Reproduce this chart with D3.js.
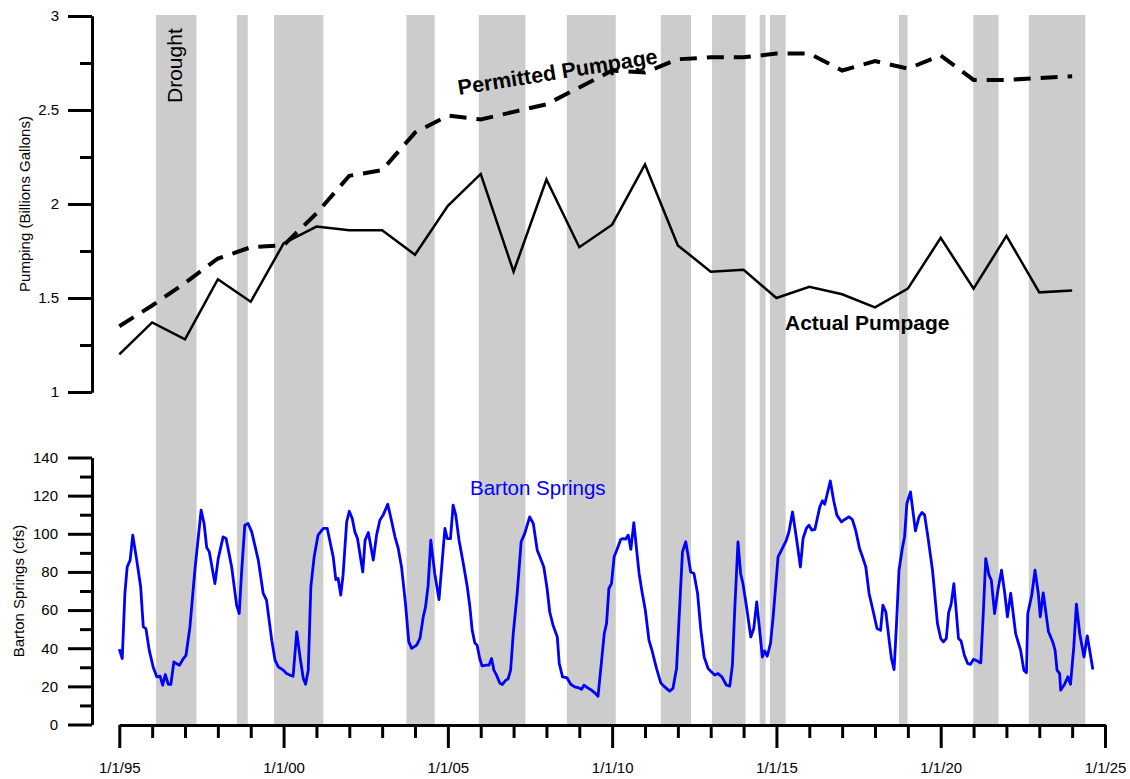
<!DOCTYPE html>
<html>
<head>
<meta charset="utf-8">
<script src="https://cdn.jsdelivr.net/npm/d3@7"></script>
<style>
  html, body { margin: 0; padding: 0; background: #fff; }
  svg { display: block; }
  text { font-family: "Liberation Sans", Arial, sans-serif; }
</style>
</head>
<body>
<svg id="chart" width="1130" height="779"></svg>
<script>
// ---------- DATA ----------
const pumpYears = [1995,1996,1997,1998,1999,2000,2001,2002,2003,2004,2005,2006,2007,2008,2009,2010,2011,2012,2013,2014,2015,2016,2017,2018,2019,2020,2021,2022,2023,2024];
const actualPumpage = [1.20,1.37,1.28,1.60,1.48,1.79,1.88,1.86,1.86,1.73,1.99,2.16,1.64,2.13,1.77,1.89,2.21,1.78,1.64,1.65,1.50,1.56,1.52,1.45,1.55,1.82,1.55,1.83,1.53,1.54];
const permittedPumpage = [1.35,1.46,1.58,1.71,1.77,1.78,1.95,2.15,2.18,2.38,2.47,2.45,2.49,2.53,2.62,2.71,2.70,2.77,2.78,2.78,2.80,2.80,2.71,2.76,2.72,2.79,2.66,2.66,2.67,2.68];

// drought periods, [start, end] as decimal years
const droughtStart = [1996.12,1998.58,1999.71,2003.74,2005.94,2008.62,2011.48,2013.04,2014.49,2014.80,2018.73,2020.99,2022.68];
const droughtEnd   = [1997.35,1998.91,2001.21,2004.60,2007.36,2010.11,2012.40,2014.06,2014.67,2015.28,2018.99,2021.76,2024.40];

// Barton Springs flow (cfs), decimal year
const flowYears = [1995.00,1995.09,1995.17,1995.24,1995.33,1995.41,1995.53,1995.65,1995.73,1995.81,1995.91,1996.03,1996.14,1996.24,1996.32,1996.40,1996.49,1996.57,1996.66,1996.83,1996.95,1997.03,1997.15,1997.30,1997.49,1997.58,1997.66,1997.74,1997.91,1998.01,1998.16,1998.25,1998.42,1998.57,1998.65,1998.72,1998.82,1998.92,1999.03,1999.23,1999.38,1999.48,1999.64,1999.74,1999.84,1999.99,2000.09,2000.19,2000.29,2000.40,2000.50,2000.60,2000.67,2000.75,2000.83,2000.93,2001.05,2001.21,2001.33,2001.51,2001.59,2001.66,2001.74,2001.81,2001.92,2002.00,2002.09,2002.17,2002.25,2002.41,2002.48,2002.58,2002.73,2002.83,2002.93,2003.03,2003.17,2003.27,2003.39,2003.49,2003.59,2003.71,2003.81,2003.90,2004.05,2004.15,2004.25,2004.32,2004.40,2004.48,2004.60,2004.73,2004.91,2004.98,2005.08,2005.16,2005.24,2005.34,2005.47,2005.59,2005.67,2005.74,2005.82,2005.89,2005.97,2006.04,2006.18,2006.25,2006.33,2006.40,2006.48,2006.58,2006.66,2006.76,2006.83,2006.91,2006.99,2007.11,2007.23,2007.34,2007.49,2007.60,2007.72,2007.80,2007.92,2008.02,2008.10,2008.20,2008.33,2008.39,2008.49,2008.63,2008.74,2008.86,2008.99,2009.07,2009.14,2009.24,2009.37,2009.47,2009.57,2009.68,2009.76,2009.83,2009.90,2009.98,2010.06,2010.16,2010.26,2010.33,2010.41,2010.49,2010.57,2010.66,2010.74,2010.82,2010.91,2011.01,2011.12,2011.21,2011.35,2011.48,2011.60,2011.75,2011.85,2011.96,2012.06,2012.14,2012.24,2012.31,2012.39,2012.49,2012.60,2012.70,2012.80,2012.92,2013.02,2013.12,2013.22,2013.34,2013.48,2013.58,2013.66,2013.73,2013.83,2013.91,2013.98,2014.09,2014.22,2014.31,2014.40,2014.49,2014.57,2014.64,2014.72,2014.82,2014.90,2015.05,2015.18,2015.30,2015.38,2015.49,2015.61,2015.73,2015.81,2015.91,2015.99,2016.08,2016.17,2016.32,2016.40,2016.47,2016.64,2016.74,2016.84,2016.98,2017.08,2017.21,2017.31,2017.41,2017.53,2017.62,2017.72,2017.82,2017.96,2018.06,2018.17,2018.24,2018.33,2018.43,2018.50,2018.58,2018.65,2018.73,2018.83,2018.90,2018.97,2019.08,2019.23,2019.34,2019.43,2019.51,2019.61,2019.75,2019.84,2019.90,2020.00,2020.08,2020.17,2020.24,2020.32,2020.40,2020.47,2020.54,2020.62,2020.72,2020.82,2020.90,2021.00,2021.10,2021.22,2021.30,2021.37,2021.47,2021.54,2021.64,2021.74,2021.85,2021.95,2022.03,2022.13,2022.28,2022.43,2022.53,2022.61,2022.65,2022.77,2022.87,2022.97,2023.03,2023.12,2023.28,2023.41,2023.48,2023.54,2023.62,2023.65,2023.77,2023.87,2023.95,2024.05,2024.13,2024.23,2024.36,2024.46,2024.63];
const flowValues = [39.5,34.6,68.7,82.6,86.2,99.3,86.2,72.2,51.2,50.3,39.0,30.2,25.0,25.3,20.6,26.2,21.1,21.1,32.8,31.1,34.6,36.3,51.2,80.9,112.4,105.4,92.8,90.5,73.9,87.0,98.4,97.5,82.6,62.6,58.2,79.2,104.5,105.4,101.0,86.2,68.7,65.2,44.2,33.7,30.2,28.5,26.7,25.9,25.3,48.6,35.4,24.1,21.1,28.5,72.2,87.9,99.3,102.8,102.8,87.9,76.0,76.6,67.8,78.3,106.2,111.8,108.0,101.0,97.5,80.0,96.6,100.7,86.2,99.3,107.1,109.8,115.5,108.0,98.4,92.3,82.6,63.4,43.3,39.9,41.6,45.1,56.4,61.7,73.0,96.6,79.2,65.5,102.8,97.5,97.5,115.0,109.8,96.6,84.4,72.2,61.7,49.4,42.8,41.6,34.6,30.7,31.1,31.1,34.6,28.5,25.9,21.8,21.0,23.2,23.8,28.5,47.7,68.7,95.8,100.2,108.9,105.4,91.4,87.9,82.6,71.3,59.0,52.1,45.9,32.0,25.0,24.4,21.1,19.7,19.2,18.5,20.6,19.4,18.0,16.6,14.8,33.7,47.7,53.0,71.3,73.9,87.9,92.3,97.0,97.5,97.2,99.3,91.8,105.9,92.3,79.2,69.5,59.9,44.2,39.0,29.4,21.8,19.7,17.5,18.9,29.4,63.4,90.5,95.8,88.8,80.0,79.2,68.7,49.4,35.4,29.4,27.6,25.9,26.7,25.0,20.6,20.1,31.1,59.9,95.8,79.2,73.9,61.7,45.9,50.3,64.3,49.4,35.4,38.6,35.8,42.5,56.4,87.9,92.3,96.6,101.0,111.5,97.5,82.6,97.5,102.8,104.5,101.9,102.3,114.1,117.3,115.5,127.7,117.6,109.8,106.2,107.5,108.9,107.5,101.9,92.3,87.9,82.6,68.7,58.2,50.3,49.4,62.6,59.0,44.2,34.6,28.8,51.2,80.9,92.3,98.4,115.9,122.0,101.5,108.9,111.2,109.8,98.4,80.9,64.3,53.0,45.1,43.3,45.1,58.5,63.4,73.9,59.9,45.1,43.8,36.3,32.0,31.5,34.2,33.4,32.3,59.9,87.0,78.3,75.7,58.2,70.4,80.9,68.7,56.4,68.9,47.7,39.0,28.5,27.1,58.2,67.8,80.9,68.7,56.4,69.0,48.6,43.3,39.0,28.5,26.7,18.0,21.1,25.0,21.1,40.7,63.1,47.7,35.4,46.5,28.8];

const pumpMajorTicks = [1, 1.5, 2, 2.5, 3];
const pumpMinorTicks = [1.25, 1.75, 2.25, 2.75];
const flowMajorTicks = [0, 20, 40, 60, 80, 100, 120, 140];
const flowMinorTicks = [10, 30, 50, 70, 90, 110, 130];
const yearTicks = d3.range(1995, 2026);
const yearLabelTicks = [1995, 2000, 2005, 2010, 2015, 2020, 2025];

// ---------- LAYOUT ----------
const svg = d3.select("#chart");
const x = d3.scaleLinear().domain([1995, 2025]).range([119.3, 1105]);
const yTop = d3.scaleLinear().domain([1, 3]).range([392, 16]);
const yBot = d3.scaleLinear().domain([0, 140]).range([724.5, 457.5]);
const axisX = 92;

// drought bands
const bands = droughtStart.map((s, i) => ({ s, e: droughtEnd[i] }));
svg.append("g").selectAll("rect").data(bands).join("rect")
  .attr("x", d => x(d.s)).attr("width", d => x(d.e) - x(d.s))
  .attr("y", yTop(3) - 1).attr("height", yBot(0) - yTop(3) + 1)
  .attr("fill", "#cccccc");

function styleAxis(g, sw) {
  g.selectAll("path.domain").attr("stroke", "#000").attr("stroke-width", sw);
  g.selectAll(".tick line").attr("stroke", "#000").attr("stroke-width", sw);
  g.selectAll("text").attr("fill", "#000").style("font-family", "'Liberation Sans', Arial, sans-serif");
}

// top y axis
const gTopMinor = svg.append("g").attr("transform", `translate(${axisX},0)`)
  .call(d3.axisLeft(yTop).tickValues(pumpMinorTicks).tickSize(12).tickSizeOuter(0).tickFormat(""));
styleAxis(gTopMinor, 3);
const gTop = svg.append("g").attr("transform", `translate(${axisX},0)`)
  .call(d3.axisLeft(yTop).tickValues(pumpMajorTicks).tickSize(24).tickSizeOuter(0).tickPadding(9).tickFormat(d3.format("")));
styleAxis(gTop, 3);
gTop.selectAll("text").attr("font-size", 15);

// bottom y axis
const gBotMinor = svg.append("g").attr("transform", `translate(${axisX},0)`)
  .call(d3.axisLeft(yBot).tickValues(flowMinorTicks).tickSize(12).tickSizeOuter(0).tickFormat(""));
styleAxis(gBotMinor, 3);
const gBot = svg.append("g").attr("transform", `translate(${axisX},0)`)
  .call(d3.axisLeft(yBot).tickValues(flowMajorTicks).tickSize(24).tickSizeOuter(0).tickPadding(10));
styleAxis(gBot, 3);
gBot.selectAll("text").attr("font-size", 15);

// x axis
const xAxisY = 725;
const gXMinor = svg.append("g").attr("transform", `translate(0,${xAxisY})`)
  .call(d3.axisBottom(x).tickValues(yearTicks.filter(t => !yearLabelTicks.includes(t))).tickSize(13).tickSizeOuter(0).tickFormat(""));
styleAxis(gXMinor, 3);
const gX = svg.append("g").attr("transform", `translate(0,${xAxisY})`)
  .call(d3.axisBottom(x).tickValues(yearLabelTicks).tickSize(23).tickSizeOuter(0)
    .tickFormat(d => "1/1/" + String(d % 100).padStart(2, "0")));
styleAxis(gX, 3);
gX.selectAll("text").attr("font-size", 15).attr("y", 37).attr("dy", "0.71em");

// lines
const pumpData = pumpYears.map((yr, i) => ({ yr, a: actualPumpage[i], p: permittedPumpage[i] }));
svg.append("path").datum(pumpData)
  .attr("fill", "none").attr("stroke", "#000").attr("stroke-width", 4)
  .attr("stroke-dasharray", "17,10")
  .attr("d", d3.line().x(d => x(d.yr)).y(d => yTop(d.p)));
svg.append("path").datum(pumpData)
  .attr("fill", "none").attr("stroke", "#000").attr("stroke-width", 2.5)
  .attr("stroke-linejoin", "miter")
  .attr("d", d3.line().x(d => x(d.yr)).y(d => yTop(d.a)));

const flowData = flowYears.map((yr, i) => ({ yr, v: flowValues[i] }));
svg.append("path").datum(flowData)
  .attr("fill", "none").attr("stroke", "#0000ff").attr("stroke-width", 2.8)
  .attr("stroke-linejoin", "round")
  .attr("d", d3.line().x(d => x(d.yr)).y(d => yBot(d.v)));

// labels
svg.append("text").attr("transform", "translate(30,204) rotate(-90)")
  .attr("text-anchor", "middle").attr("font-size", 15).text("Pumping (Billions Gallons)");
svg.append("text").attr("transform", "translate(24,591) rotate(-90)")
  .attr("text-anchor", "middle").attr("font-size", 15).text("Barton Springs (cfs)");
svg.append("text").attr("transform", "translate(182,103) rotate(-90)")
  .attr("text-anchor", "start").attr("font-size", 21).text("Drought");
svg.append("text").attr("x", 470).attr("y", 495)
  .attr("font-size", 20.5).attr("fill", "#0000ff").text("Barton Springs");
svg.append("text").attr("transform", "translate(459,95) rotate(-9)")
  .attr("font-size", 21.5).attr("font-weight", "bold").text("Permitted Pumpage");
svg.append("text").attr("x", 785).attr("y", 330)
  .attr("font-size", 21).attr("font-weight", "bold").text("Actual Pumpage");
</script>
</body>
</html>
